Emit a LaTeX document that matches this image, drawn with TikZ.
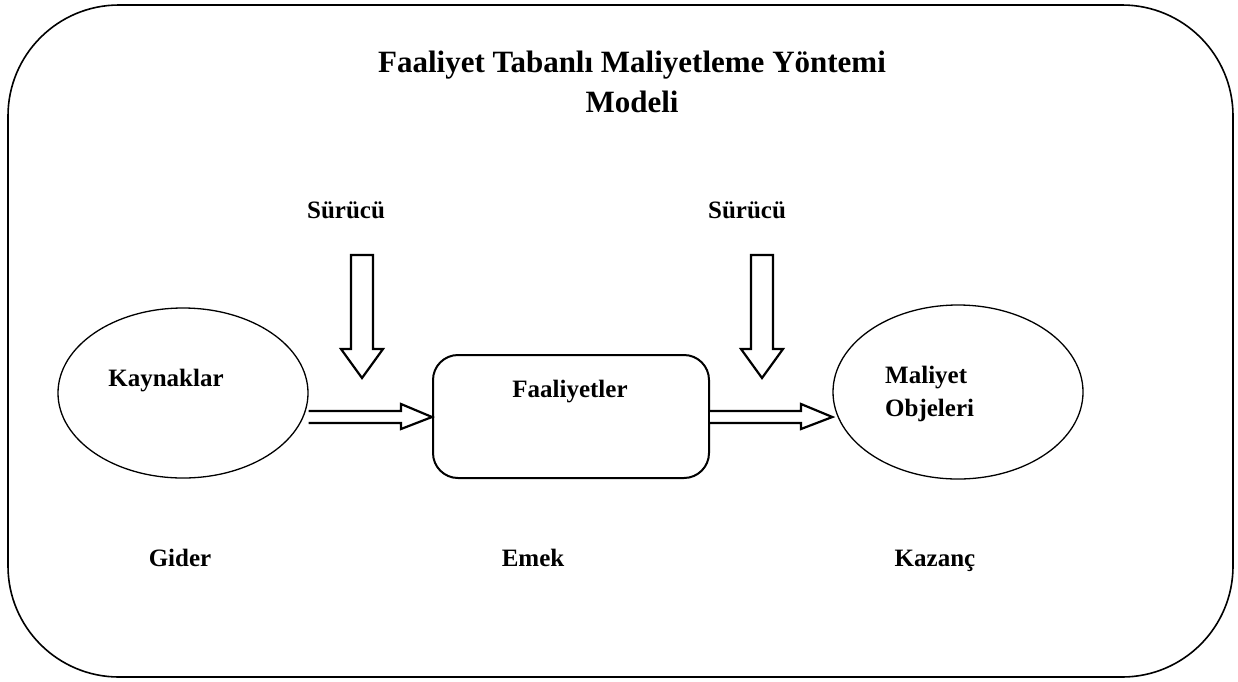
\documentclass[tikz,border=0pt]{standalone}
\usepackage{fontspec}
\setmainfont{Liberation Serif}
\usetikzlibrary{shapes.geometric}
\begin{document}
\begin{tikzpicture}[x=1pt,y=-1pt,
  lbl/.style={font=\fontsize{25}{30}\selectfont\bfseries, inner sep=0pt, anchor=base},
  ttl/.style={font=\fontsize{31}{38}\selectfont\bfseries, inner sep=0pt, anchor=base},
  blockarrow/.style={draw, line width=2.2pt, fill=white, line join=miter},
]
\useasboundingbox (0,0) rectangle (1238,681);
% outer frame
\draw[line width=1.6pt, rounded corners=111pt] (8,5) rectangle (1233,677);
% title
\node[ttl] (title1) at (632,72) {Faaliyet Tabanlı Maliyetleme Yöntemi};
\node[ttl] (title2) at (632,112) {Modeli};
% main shapes
\node[draw, ellipse, line width=1.3pt, minimum width=250pt, minimum height=170pt, inner sep=0pt] (kay) at (183,393) {};
\node[draw, line width=2pt, rounded corners=25pt, minimum width=276pt, minimum height=123pt, inner sep=0pt] (faal) at (571,416.5) {};
\node[draw, ellipse, line width=1.3pt, minimum width=250pt, minimum height=174pt, inner sep=0pt] (obj) at (958,392) {};
% labels inside
\node[lbl] (kayt) at (166,386) {Kaynaklar};
\node[lbl] (faalt) at (570,397) {Faaliyetler};
\node[lbl, anchor=base west] (objt1) at (885,383) {Maliyet};
\node[lbl, anchor=base west] (objt2) at (885,416) {Objeleri};
% driver labels
\node[lbl] (s1) at (346,218) {Sürücü};
\node[lbl] (s2) at (747,218) {Sürücü};
% bottom labels
\node[lbl] (g) at (180,566) {Gider};
\node[lbl] (e) at (533,566) {Emek};
\node[lbl] (k) at (935,566) {Kazanç};
% vertical block arrows
\foreach \dx/\nm in {0/v1,400/v2}{
  \draw[blockarrow] (351+\dx,255) -- (373+\dx,255) -- (373+\dx,349) -- (383+\dx,349)
    -- (362+\dx,378) coordinate (\nm) -- (341+\dx,349) -- (351+\dx,349) -- cycle;
}
% horizontal block arrows between nodes
\draw[blockarrow] (kay.east |- 0,411) -- (401,411) -- (401,404) -- (faal.west |- 0,417)
  -- (401,429) -- (401,423) -- (kay.east |- 0,423);
\draw[blockarrow] (faal.east |- 0,411) -- (801,411) -- (801,404) -- (obj.west |- 0,417)
  -- (801,429) -- (801,423) -- (faal.east |- 0,423);
\end{tikzpicture}
\end{document}
